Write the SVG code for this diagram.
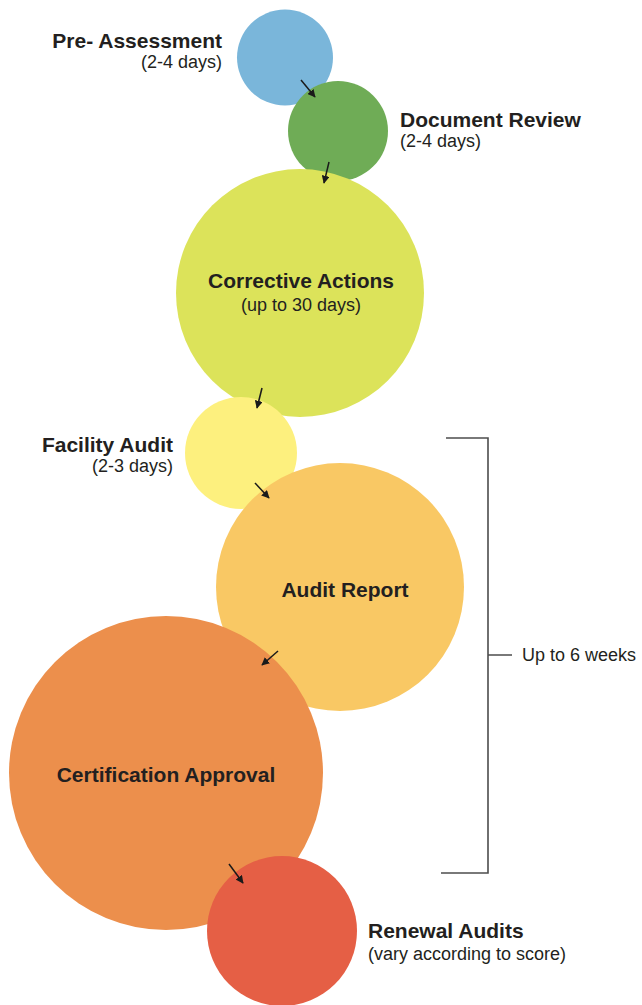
<svg xmlns="http://www.w3.org/2000/svg" width="642" height="1005" viewBox="0 0 642 1005">
  <style>
    .title { font-family: "Liberation Sans", Arial, sans-serif; font-weight: bold; font-size: 21px; fill: #231f20; }
    .sub { font-family: "Liberation Sans", Arial, sans-serif; font-size: 18px; fill: #231f20; }
    .arrow { stroke: #1a1a1a; stroke-width: 1.5; fill: none; marker-end: url(#head); }
    .bracket { stroke: #4d4d4d; stroke-width: 1.6; fill: none; }
  </style>
  <defs>
    <marker id="head" viewBox="0 0 10 10" refX="9" refY="5" markerWidth="8" markerHeight="8" markerUnits="userSpaceOnUse" orient="auto">
      <path d="M0,0 L10,5 L0,10 Z" fill="#1a1a1a"/>
    </marker>
  </defs>
  <rect width="642" height="1005" fill="#ffffff"/>

  <!-- process stages, each circle stacked over the previous one -->
  <g id="pre-assessment">
    <circle cx="285" cy="57.5" r="48" fill="#7ab6da"/>
    <text class="title" x="222" y="48" text-anchor="end">Pre- Assessment</text>
    <text class="sub" x="222" y="68" text-anchor="end">(2-4 days)</text>
  </g>
  <g id="document-review">
    <circle cx="338" cy="131" r="50" fill="#6fac56"/>
    <text class="title" x="400" y="127">Document Review</text>
    <text class="sub" x="400" y="147">(2-4 days)</text>
  </g>
  <g id="corrective-actions">
    <circle cx="300" cy="293" r="124" fill="#dce35a"/>
    <text class="title" x="301" y="288" text-anchor="middle">Corrective Actions</text>
    <text class="sub" x="301" y="311" text-anchor="middle">(up to 30 days)</text>
  </g>
  <g id="facility-audit">
    <circle cx="241" cy="453" r="56" fill="#fdf07e"/>
    <text class="title" x="173" y="452" text-anchor="end">Facility Audit</text>
    <text class="sub" x="173" y="472" text-anchor="end">(2-3 days)</text>
  </g>
  <g id="audit-report">
    <circle cx="340" cy="587" r="124" fill="#f9c864"/>
    <text class="title" x="345" y="597" text-anchor="middle">Audit Report</text>
  </g>
  <g id="certification-approval">
    <circle cx="166" cy="773" r="157" fill="#ec8f4c"/>
    <text class="title" x="166" y="782" text-anchor="middle">Certification Approval</text>
  </g>
  <g id="renewal-audits">
    <circle cx="282" cy="931" r="75" fill="#e55f45"/>
    <text class="title" x="368" y="938">Renewal Audits</text>
    <text class="sub" x="368" y="960">(vary according to score)</text>
  </g>

  <!-- duration bracket -->
  <g id="duration">
    <path class="bracket" d="M446,438 H488 V873 H441 M488,655 H512"/>
    <text class="sub" x="522" y="661">Up to 6 weeks</text>
  </g>

  <!-- flow arrows -->
  <g id="connectors">
    <line class="arrow" x1="301" y1="80" x2="315" y2="97"/>
    <line class="arrow" x1="329" y1="162" x2="324" y2="183"/>
    <line class="arrow" x1="262" y1="388" x2="257" y2="408"/>
    <line class="arrow" x1="255" y1="483" x2="269" y2="498"/>
    <line class="arrow" x1="278" y1="651" x2="262" y2="665"/>
    <line class="arrow" x1="229" y1="864" x2="243" y2="883"/>
  </g>
</svg>
